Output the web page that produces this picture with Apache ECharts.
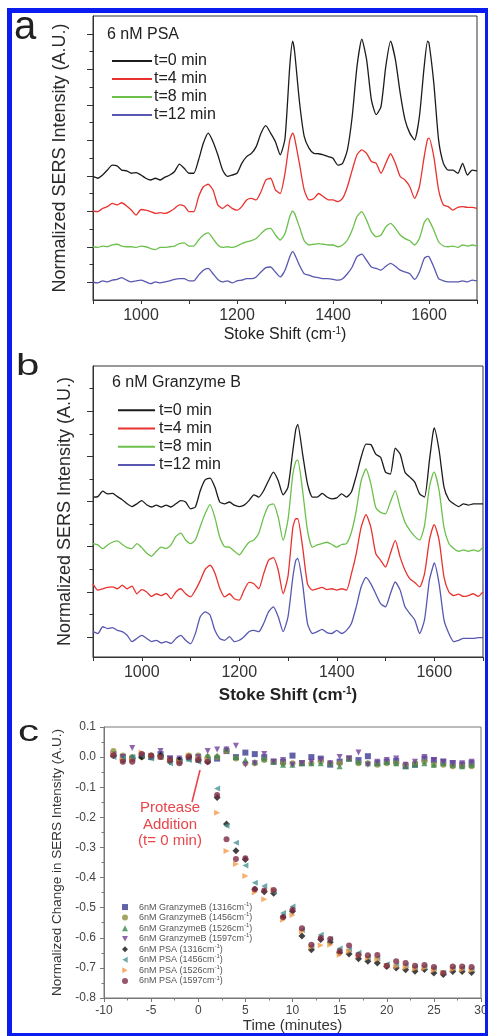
<!DOCTYPE html>
<html><head><meta charset="utf-8">
<script src="https://cdn.jsdelivr.net/npm/echarts@6/dist/echarts.min.js"></script>
<style>html,body{margin:0;padding:0;background:#fff}#chart{width:488px;height:1036px}</style>
</head><body><div id="chart"></div>
<script>
// ---------- Panel a / b : Raman shift grid (cm-1) ----------
const wavenumbers = [900,910,920,930,940,950,960,970,980,990,
1000,1010,1020,1030,1040,1050,1060,1070,1080,1090,
1100,1110,1120,1130,1140,1150,1160,1170,1180,1190,
1200,1210,1220,1230,1240,1250,1260,1270,1280,1290,
1300,1310,1316,
1320,1330,1340,1350,1360,1370,1380,1390,1400,1410,
1420,1430,1440,1450,1460,1470,1480,1490,1500,1510,
1520,1530,1540,1550,1560,1570,1580,1590,
1597,
1600,1610,1620,1630,1640,1650,1660,1670,1680,1690,1700];

// Panel a: 6 nM PSA (offset spectra)
const psaT0 = [2.98,2.93,3.02,3.16,3.30,3.28,3.16,3.14,3.07,3.09,
3.02,2.93,2.88,2.93,2.88,2.96,3.02,3.12,3.33,3.21,
3.07,3.07,3.45,3.92,4.20,3.96,3.59,3.16,2.98,3.02,
3.07,3.35,3.54,3.63,3.82,4.20,4.41,4.20,3.96,3.59,
4.05,6.10,6.79,
6.50,5.10,4.11,3.78,3.63,3.62,3.59,3.54,3.49,3.30,
3.35,3.73,4.67,6.08,6.85,6.27,5.14,4.72,4.95,6.08,
6.79,6.27,5.33,4.58,4.20,4.01,4.67,6.08,
6.79,
6.74,5.61,4.01,3.35,3.16,3.16,3.07,3.35,3.02,3.16,3.14];
const psaT4 = [2.00,1.99,2.08,2.13,2.22,2.18,2.24,2.15,2.03,1.89,
2.05,2.03,1.99,1.94,1.96,1.94,1.99,2.08,2.18,2.15,
1.99,1.99,2.41,2.69,2.76,2.60,2.18,2.08,2.18,2.08,
2.03,2.13,2.32,2.36,2.32,2.55,2.88,2.93,2.60,2.50,
3.07,4.01,4.20,
4.06,3.35,2.60,2.32,2.36,2.50,2.41,2.32,2.32,2.27,
2.36,2.69,3.16,3.59,3.73,3.63,3.40,3.35,3.07,3.35,
3.62,3.35,2.98,2.88,2.69,2.36,2.69,3.54,
4.03,
4.06,3.54,2.60,2.18,2.13,2.03,2.11,2.13,2.11,2.11,2.08];
const psaT8 = [1.00,0.98,1.02,1.00,1.05,1.07,1.02,1.00,1.00,0.98,
1.02,1.00,0.95,0.92,0.98,0.98,1.00,1.02,1.09,1.11,
1.02,1.02,1.19,1.33,1.39,1.23,1.05,0.98,1.00,0.98,
1.02,1.09,1.14,1.17,1.23,1.37,1.49,1.52,1.33,1.19,
1.37,1.85,2.00,
1.94,1.56,1.17,1.05,1.07,1.09,1.07,1.05,1.05,1.00,
1.05,1.19,1.47,1.85,1.99,1.75,1.42,1.28,1.33,1.56,
1.66,1.52,1.33,1.23,1.17,1.05,1.23,1.68,
1.80,
1.75,1.47,1.14,1.02,1.00,1.02,0.98,1.05,1.02,1.05,1.02];
const psaT12 = [0.00,-0.02,0.04,0.01,0.06,0.08,0.13,0.06,0.01,0.04,
0.06,0.01,-0.04,0.01,-0.02,0.01,0.04,0.08,0.10,0.10,
0.04,0.04,0.20,0.34,0.39,0.24,0.08,0.01,0.04,-0.02,
0.04,0.06,0.10,0.10,0.15,0.29,0.41,0.43,0.29,0.15,
0.34,0.72,0.86,
0.79,0.48,0.24,0.20,0.15,0.13,0.10,0.10,0.08,0.06,
0.10,0.24,0.43,0.72,0.79,0.62,0.43,0.39,0.34,0.45,
0.53,0.45,0.34,0.29,0.24,0.08,0.29,0.67,
0.73,
0.72,0.43,0.10,0.04,0.01,0.01,0.01,0.04,0.01,0.06,0.04];

// Panel b: 6 nM Granzyme B
const gzbT0 = [3.10,3.11,3.23,3.17,3.18,3.11,3.04,2.95,2.89,2.95,
3.02,2.93,2.88,2.92,2.88,2.92,2.88,2.95,3.02,2.99,
2.84,2.88,3.24,3.48,3.52,3.32,2.99,2.95,2.99,2.92,
2.89,2.92,3.02,3.15,3.10,3.24,3.46,3.65,3.46,3.15,
3.32,4.13,4.60,
4.71,4.05,3.39,3.10,3.10,3.18,3.10,3.06,3.08,3.17,
3.10,3.21,3.57,3.98,4.27,4.26,4.05,3.98,3.65,3.61,
4.18,4.05,3.65,3.54,3.43,3.17,3.10,3.90,
4.49,
4.63,4.13,3.32,3.04,2.95,2.89,2.95,2.92,2.95,2.95,2.95];
const gzbT8 = [2.07,2.04,1.96,2.04,2.10,2.13,2.05,1.98,1.96,2.07,
1.98,1.86,1.79,1.90,1.99,1.96,2.04,2.23,2.30,2.15,
2.07,2.15,2.45,2.73,2.93,2.65,2.21,2.00,1.99,1.90,
1.82,1.96,2.10,2.15,2.30,2.65,2.91,2.95,2.65,2.14,
2.60,3.61,3.89,
3.92,3.24,2.36,1.99,2.04,2.07,2.10,2.05,1.99,2.05,
2.07,2.32,2.80,3.46,3.72,3.39,2.87,2.76,2.73,2.99,
3.24,2.87,2.54,2.36,2.23,2.15,2.47,3.32,
3.61,
3.65,3.24,2.43,2.07,1.96,1.90,1.93,1.90,1.93,1.90,1.99];
const gzbT4 = [1.18,1.04,1.07,1.10,1.11,1.07,1.15,1.07,1.13,0.96,
1.05,1.00,0.90,0.96,0.92,0.97,0.85,1.00,1.07,0.96,
0.89,1.04,1.25,1.50,1.59,1.42,1.08,0.89,0.96,0.85,
0.82,1.04,1.21,1.18,1.07,1.40,1.70,1.76,1.48,0.96,
1.35,2.43,2.62,
2.62,1.99,1.18,1.04,1.07,1.10,1.05,1.07,1.04,1.07,
1.04,1.40,1.85,2.43,2.71,2.43,1.85,1.70,1.55,1.85,
2.14,1.77,1.48,1.29,1.21,1.11,1.40,2.14,
2.43,
2.49,2.14,1.33,1.00,0.92,0.95,0.90,0.92,0.96,0.90,1.00];
const gzbT12 = [0.12,0.08,0.23,0.19,0.21,0.15,0.12,0.04,-0.10,-0.03,
0.04,-0.03,-0.10,-0.07,-0.13,-0.10,-0.14,-0.03,0.04,-0.07,
-0.15,0.08,0.45,0.56,0.49,0.15,-0.03,-0.07,0.01,-0.10,
-0.07,0.01,0.12,0.15,0.12,0.30,0.56,0.67,0.45,0.12,
0.45,1.33,1.70,
1.74,1.18,0.30,0.08,0.12,0.17,0.10,0.08,0.15,0.08,
0.15,0.30,0.67,1.11,1.32,1.18,0.96,0.74,0.67,0.96,
1.22,1.04,0.67,0.52,0.38,0.08,0.38,1.26,
1.55,
1.64,1.18,0.38,0.08,-0.10,-0.07,-0.03,-0.03,-0.03,-0.01,-0.01];

// ---------- Panel c : time course ----------
const timeMin = [-9,-8,-7,-6,-5,-4,-3,-2,-1,0,1,2,3,4,5,6,7,8,9,10,11,12,13,14,15,16,17,18,19,20,21,22,23,24,25,26,27,28,29];
const gzb1316 = [0.01,0.0,-0.005,0.005,0.0,0.01,-0.005,-0.01,0.0,-0.005,-0.01,-0.005,0.02,0.0,0.015,0.01,0.0,-0.015,-0.015,0.005,-0.02,0.0,-0.005,-0.025,-0.015,-0.005,-0.01,0.003,-0.02,-0.015,-0.012,-0.03,-0.025,-0.005,-0.01,-0.015,-0.02,-0.025,-0.02];
const gzb1456 = [0.02,0.005,0.0,0.0,0.005,0.0,-0.01,-0.015,0.005,0.005,0.0,0.0,0.02,-0.005,-0.02,-0.02,-0.01,-0.015,-0.02,-0.02,-0.02,-0.02,-0.015,-0.02,-0.02,-0.005,-0.02,-0.02,-0.025,-0.02,-0.02,-0.025,-0.02,-0.015,-0.025,-0.025,-0.03,-0.03,-0.03];
const gzb1526 = [0.01,-0.005,0.0,0.005,0.005,0.01,-0.005,-0.01,-0.005,-0.01,0.005,0.005,0.028,0.0,-0.01,-0.015,-0.005,-0.015,-0.025,-0.025,-0.02,-0.02,-0.02,-0.02,-0.03,-0.005,-0.015,-0.02,-0.02,-0.015,-0.02,-0.03,-0.025,-0.02,-0.025,-0.02,-0.025,-0.03,-0.025];
const gzb1597 = [0.005,0.0,0.03,0.005,0.0,0.02,-0.005,-0.005,-0.005,0.0,0.02,0.025,0.025,0.038,-0.025,-0.02,0.01,-0.015,-0.01,-0.025,-0.02,-0.015,-0.01,-0.02,0.0,-0.005,0.015,-0.025,-0.015,-0.01,-0.005,-0.025,-0.015,0.0,-0.01,-0.015,-0.02,-0.02,-0.015];
const psa1316 = [0.005,-0.01,-0.005,0.0,0.0,0.005,-0.015,-0.01,0.0,-0.01,-0.015,-0.134,-0.222,-0.311,-0.34,-0.439,-0.447,-0.452,-0.532,-0.512,-0.594,-0.640,-0.606,-0.615,-0.650,-0.654,-0.670,-0.678,-0.684,-0.695,-0.700,-0.706,-0.711,-0.705,-0.717,-0.722,-0.712,-0.712,-0.715];
const psa1456 = [0.0,-0.005,0.0,0.005,-0.005,0.0,-0.02,-0.015,-0.01,-0.015,-0.01,-0.104,-0.228,-0.284,-0.360,-0.417,-0.428,-0.447,-0.518,-0.496,-0.574,-0.628,-0.590,-0.604,-0.636,-0.640,-0.650,-0.665,-0.668,-0.688,-0.690,-0.692,-0.698,-0.698,-0.702,-0.717,-0.700,-0.700,-0.705];
const psa1526 = [0.01,-0.01,-0.01,0.015,0.005,0.0,-0.01,-0.015,0.005,-0.005,-0.01,-0.185,-0.312,-0.355,-0.395,-0.449,-0.472,-0.441,-0.540,-0.524,-0.579,-0.631,-0.625,-0.623,-0.656,-0.645,-0.660,-0.667,-0.672,-0.693,-0.695,-0.698,-0.703,-0.700,-0.708,-0.715,-0.705,-0.706,-0.708];
const psa1597 = [0.005,-0.015,-0.015,0.01,0.005,0.0,-0.01,-0.02,0.0,-0.01,-0.015,-0.126,-0.273,-0.338,-0.336,-0.439,-0.443,-0.441,-0.531,-0.507,-0.568,-0.623,-0.601,-0.604,-0.645,-0.626,-0.657,-0.658,-0.657,-0.693,-0.678,-0.684,-0.693,-0.690,-0.697,-0.717,-0.695,-0.695,-0.697];

const legendSpectra = ['t=0 min','t=4 min','t=8 min','t=12 min'];
const spectraColors = ['#1c1c1c','#e8322e','#6cc04c','#5858b0'];
const aTicksMajor = [0,1,2,3,4,5,6,7];
const aTicksMinor = [0.5,1.5,2.5,3.5,4.5,5.5,6.5];
const bTicksMajor = [0,1,2,3,4,5];
const bTicksMinor = [0.5,1.5,2.5,3.5,4.5,5.5];

const FONT = '"Liberation Sans", Arial, Helvetica, sans-serif';
const chart = echarts.init(document.getElementById('chart'), null, {renderer:'canvas'});

function specSeries(name, ys, color, xi, yi) {
  return {type:'line', name, xAxisIndex:xi, yAxisIndex:yi,
    data: wavenumbers.map((w,i)=>[w, ys[i]]),
    symbol:'none', showSymbol:false, smooth:0.2, silent:true,
    lineStyle:{color, width:1.3}, itemStyle:{color}};
}
const TRI_DOWN = 'path://M0,0L10,0L5,9Z';
const TRI_LEFT = 'path://M9,0L9,10L0,5Z';
const TRI_RIGHT = 'path://M0,0L0,10L9,5Z';
const cSeriesDefs = [
  ['6nM GranzymeB (1316cm-1)', gzb1316, 'rect', 0, '#3b3b93', 'rect'],
  ['6nM GranzymeB (1456cm-1)', gzb1456, 'circle', 0, '#8e8e3c', 'circle'],
  ['6nM GranzymeB (1526cm-1)', gzb1526, 'triangle', 0, '#3a8a50', 'triangle'],
  ['6nM GranzymeB (1597cm-1)', gzb1597, 'triangle', 180, '#73409a', TRI_DOWN],
  ['6nM PSA (1316cm-1)', psa1316, 'diamond', 0, '#111111', 'diamond'],
  ['6nM PSA (1456cm-1)', psa1456, 'triangle', 90, '#4a9595', TRI_LEFT],
  ['6nM PSA (1526cm-1)', psa1526, 'triangle', -90, '#f29a4a', TRI_RIGHT],
  ['6nM PSA (1597cm-1)', psa1597, 'circle', 0, '#7d2b45', 'circle']
];
const cSeries = cSeriesDefs.map(([name, ys, sym, rot, color]) => ({
  type:'scatter', name, xAxisIndex:2, yAxisIndex:4,
  data: timeMin.map((t,i)=>[t, ys[i]]),
  symbol:sym, symbolRotate:rot, symbolSize: sym==='diamond'?7:6,
  itemStyle:{color}, silent:true
}));

const axisGray = '#333';
const specX = (gi, nameGap, nameSize, bold) => ({
  type:'value', gridIndex:gi, min:900, max:1700, interval:100,
  axisLine:{show:true, onZero:false, lineStyle:{color:axisGray}},
  axisTick:{show:true, length:4, lineStyle:{color:axisGray}},
  axisLabel:{fontSize:16, color:'#333', margin:8, formatter:v=> (v%200===0)? String(v):''},
  splitLine:{show:false},
  name:'{n|Stoke Shift (cm}{s|-1}{n|)}', nameLocation:'middle', nameGap,
  nameTextStyle:{rich:{
    n:{fontSize:nameSize, fontWeight:bold?'bold':'normal', color:'#222', lineHeight:nameSize+2, fontFamily:FONT},
    s:{fontSize:Math.round(nameSize*0.6), fontWeight:bold?'bold':'normal', color:'#222', verticalAlign:'top', lineHeight:nameSize+2, fontFamily:FONT}
  }}
});
const specYMajor = (gi, min, max, ticks, nameGap) => ({
  type:'value', gridIndex:gi, min, max, position:'left',
  axisLine:{show:true, onZero:false, lineStyle:{color:axisGray}},
  axisTick:{show:true, length:6, customValues:ticks, lineStyle:{color:axisGray}},
  axisLabel:{show:false}, splitLine:{show:false},
  name:'Normalized SERS Intensity (A.U.)', nameLocation:'middle', nameGap,
  nameTextStyle:{fontSize:18, color:'#2a2a2a'}
});
const specYMinor = (gi, min, max, ticks) => ({
  type:'value', gridIndex:gi, min, max, position:'left',
  axisLine:{show:false, onZero:false},
  axisTick:{show:true, length:3.5, customValues:ticks, lineStyle:{color:axisGray}},
  axisLabel:{show:false}, splitLine:{show:false}
});

const option = {
  animation:false,
  backgroundColor:'#ffffff',
  textStyle:{fontFamily:FONT},
  grid:[
    {left:93, top:16, width:384, height:284, show:true, borderColor:'#333', borderWidth:1, outerBoundsMode:'none', containLabel:false},
    {left:93, top:366, width:390, height:291, show:true, borderColor:'#333', borderWidth:1, outerBoundsMode:'none', containLabel:false},
    {left:104, top:727, width:377, height:271, show:true, borderColor:'#777', borderWidth:1, outerBoundsMode:'none', containLabel:false}
  ],
  xAxis:[
    specX(0, 26, 16, false),
    specX(1, 29, 17, true),
    {type:'value', gridIndex:2, min:-10, max:30, interval:5,
     axisLine:{show:true, onZero:false, lineStyle:{color:'#777'}},
     axisTick:{show:true, length:4, lineStyle:{color:'#777'}},
     minorTick:{show:true, splitNumber:2, length:2.5, lineStyle:{color:'#777'}},
     axisLabel:{fontSize:12, color:'#444', margin:7},
     splitLine:{show:false},
     name:'Time (minutes)', nameLocation:'middle', nameGap:20,
     nameTextStyle:{fontSize:15, color:'#333'}}
  ],
  yAxis:[
    specYMajor(0, -0.5, 7.5, aTicksMajor, 24),
    specYMinor(0, -0.5, 7.5, aTicksMinor),
    specYMajor(1, -0.44, 6, bTicksMajor, 19),
    specYMinor(1, -0.44, 6, bTicksMinor),
    {type:'value', gridIndex:2, min:-0.8, max:0.1, interval:0.1, position:'left',
     axisLine:{show:true, onZero:false, lineStyle:{color:'#777'}},
     axisTick:{show:true, length:4, lineStyle:{color:'#777'}},
     minorTick:{show:true, splitNumber:2, length:2.5, lineStyle:{color:'#777'}},
     axisLabel:{fontSize:12, color:'#444', margin:8, formatter:v=>v.toFixed(1)},
     splitLine:{show:false},
     name:'Normalized Change in SERS Intensity (A.U.)', nameLocation:'middle', nameGap:39,
     nameTextStyle:{fontSize:13.5, color:'#333'}}
  ],
  legend:[
    {left:107, top:47, orient:'vertical', itemWidth:40, itemHeight:2, itemGap:0, icon:'rect',
     data:legendSpectra, selectedMode:false,
     textStyle:{fontSize:16, color:'#222', lineHeight:18, padding:[0,0,0,-3]}},
    {left:113, top:396, orient:'vertical', itemWidth:37, itemHeight:2, itemGap:0, icon:'rect',
     data:legendSpectra, selectedMode:false,
     textStyle:{fontSize:16, color:'#222', lineHeight:18.3, padding:[0,0,0,-1]}},
    {left:117, top:896, orient:'vertical', itemWidth:6, itemHeight:6, itemGap:0,
     data:cSeriesDefs.map(d=>({name:d[0], icon:d[5]})), selectedMode:false,
     formatter:name=>'{n|'+name.slice(0,-3)+'}{s|-1}{n|)}',
     textStyle:{color:'#555', padding:[0,0,0,6], rich:{
       n:{fontSize:9, color:'#555', lineHeight:12.1, fontFamily:FONT},
       s:{fontSize:6, color:'#555', lineHeight:12.1, verticalAlign:'top', fontFamily:FONT}
     }}}
  ],
  graphic:[
    {type:'rect', shape:{x:7, y:8, width:481, height:5}, style:{fill:'#0a1cf0'}, silent:true, z:100},
    {type:'rect', shape:{x:7, y:8, width:5, height:1028}, style:{fill:'#0a1cf0'}, silent:true, z:100},
    {type:'rect', shape:{x:485, y:8, width:3, height:1028}, style:{fill:'#0a1cf0'}, silent:true, z:100},
    {type:'rect', shape:{x:7, y:1033, width:481, height:3}, style:{fill:'#0a1cf0'}, silent:true, z:100},
    {type:'text', x:14, y:28, style:{text:'a', font:'40px '+FONT, fill:'#222', textVerticalAlign:'middle'}, silent:true},
    {type:'text', x:16, y:367, scaleX:1.45, style:{text:'b', font:'29px '+FONT, fill:'#222', textVerticalAlign:'middle'}, silent:true},
    {type:'text', x:18, y:733, scaleX:1.45, style:{text:'c', font:'29px '+FONT, fill:'#222', textVerticalAlign:'middle'}, silent:true},
    {type:'text', x:107, y:35, style:{text:'6 nM PSA', font:'16px '+FONT, fill:'#222', textVerticalAlign:'middle'}, silent:true},
    {type:'text', x:112, y:383, style:{text:'6 nM Granzyme B', font:'16px '+FONT, fill:'#222', textVerticalAlign:'middle'}, silent:true},
    {type:'text', x:170, y:824.5, style:{text:'Protease\nAddition\n(t= 0 min)', font:'15px '+FONT, fill:'#e8464b', textAlign:'center', textVerticalAlign:'middle', lineHeight:16.5}, silent:true}
  ],
  series:[
    specSeries('t=0 min', psaT0, spectraColors[0], 0, 0),
    specSeries('t=4 min', psaT4, spectraColors[1], 0, 0),
    specSeries('t=8 min', psaT8, spectraColors[2], 0, 0),
    specSeries('t=12 min', psaT12, spectraColors[3], 0, 0),
    specSeries('t=0 min', gzbT0, spectraColors[0], 1, 2),
    specSeries('t=8 min', gzbT8, spectraColors[2], 1, 2),
    specSeries('t=4 min', gzbT4, spectraColors[1], 1, 2),
    specSeries('t=12 min', gzbT12, spectraColors[3], 1, 2),
    ...cSeries,
    {type:'scatter', name:'arrow', xAxisIndex:2, yAxisIndex:4, data:[], silent:true,
     markLine:{silent:true, symbol:['none','arrow'], symbolSize:[0,8], animation:false,
       lineStyle:{color:'#e8464b', width:1.6, type:'solid'}, label:{show:false},
       data:[[{coord:[-0.66,-0.149]},{coord:[0.19,-0.043]}]]}}
  ]
};
chart.setOption(option);
</script>
</body></html>
